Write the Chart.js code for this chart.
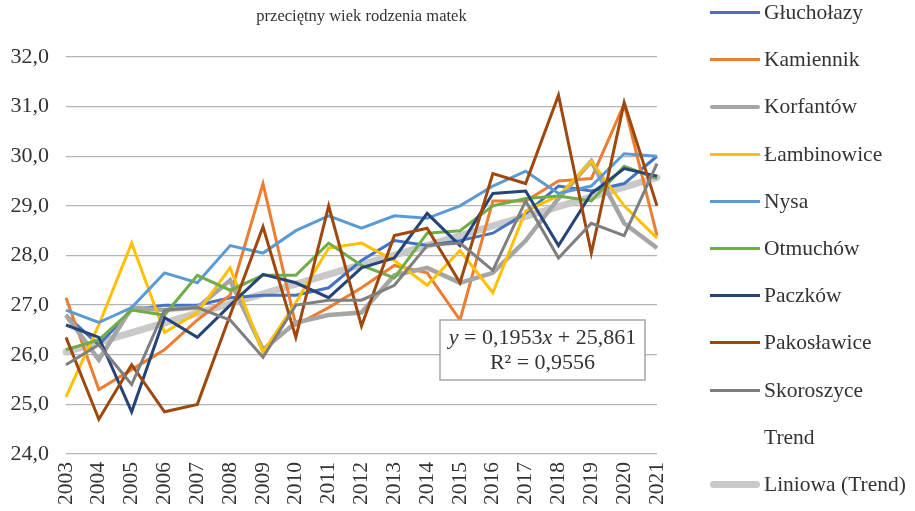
<!DOCTYPE html>
<html lang="pl">
<head>
<meta charset="utf-8">
<script src="https://cdn.jsdelivr.net/npm/chart.js@4.4.1/dist/chart.umd.min.js"></script>
<style>
    html, body { margin: 0; padding: 0; background: #fff; }
    #wrap { position: relative; width: 915px; height: 511px; }
    #legend { position: absolute; left: 710px; top: 0; font-family: "Liberation Serif", serif; font-size: 21.5px; color: #333; }
    .item { position: absolute; left: 0; height: 24px; display: flex; align-items: center; white-space: nowrap; }
    .swatch { width: 50px; margin-right: 4px; }
</style>
</head>
<body>
<div id="wrap">
    <canvas id="ageChart" width="915" height="511"></canvas>
    <div id="legend"></div>
</div>
<script>
const years = ["2003", "2004", "2005", "2006", "2007", "2008", "2009", "2010", "2011", "2012",
    "2013", "2014", "2015", "2016", "2017", "2018", "2019", "2020", "2021"];

const glucholazy = [26.8, 26.2, 26.9, 27.0, 27.0, 27.15, 27.2, 27.2, 27.35, 27.9, 28.3, 28.2, 28.3, 28.45, 28.85, 29.4, 29.3, 29.45, 30.0];
const kamiennik = [27.15, 25.3, 25.7, 26.1, 26.7, 27.2, 29.45, 26.6, 26.95, 27.35, 27.8, 27.65, 26.7, 29.1, 29.1, 29.5, 29.55, 31.05, 28.4];
const korfantow = [26.8, 25.9, 26.95, 26.9, 26.95, 27.5, 26.1, 26.65, 26.8, 26.85, 27.6, 27.75, 27.45, 27.65, 28.3, 29.15, 29.9, 28.65, 28.15];
const lambinowice = [25.15, 26.6, 28.25, 26.45, 26.85, 27.75, 26.05, 27.05, 28.15, 28.25, 27.9, 27.4, 28.1, 27.25, 28.9, 29.2, 29.9, 29.0, 28.35];
const nysa = [26.9, 26.65, 26.95, 27.65, 27.45, 28.2, 28.05, 28.5, 28.8, 28.55, 28.8, 28.75, 29.0, 29.4, 29.7, 29.25, 29.4, 30.05, 30.0];
const otmuchow = [26.1, 26.3, 26.9, 26.8, 27.6, 27.3, 27.6, 27.6, 28.25, 27.8, 27.55, 28.45, 28.5, 29.0, 29.15, 29.2, 29.1, 29.8, 29.55];
const paczkow = [26.6, 26.35, 24.85, 26.75, 26.35, 27.0, 27.62, 27.45, 27.15, 27.75, 27.95, 28.85, 28.2, 29.25, 29.3, 28.2, 29.25, 29.75, 29.6];
const pakoslawice = [26.35, 24.7, 25.8, 24.85, 25.0, 26.8, 28.58, 26.35, 29.0, 26.58, 28.4, 28.55, 27.45, 29.65, 29.45, 31.23, 28.05, 31.08, 29.0];
const skoroszyce = [25.8, 26.2, 25.4, 26.9, 26.95, 26.7, 25.95, 27.0, 27.1, 27.1, 27.4, 28.2, 28.25, 27.7, 29.1, 27.95, 28.65, 28.4, 29.85];

// linia trendu z wykresu: y = 0,1953x + 25,861
const trendSlope = 0.1953;
const trendIntercept = 25.861;
const trendR2 = 0.9556;

const series = [
    { label: "Głuchołazy", data: glucholazy, color: "#4472C4", width: 3 },
    { label: "Kamiennik", data: kamiennik, color: "#ED7D31", width: 3 },
    { label: "Korfantów", data: korfantow, color: "#A5A5A5", width: 4.5 },
    { label: "Łambinowice", data: lambinowice, color: "#FFC000", width: 3 },
    { label: "Nysa", data: nysa, color: "#5B9BD5", width: 3 },
    { label: "Otmuchów", data: otmuchow, color: "#70AD47", width: 3 },
    { label: "Paczków", data: paczkow, color: "#264478", width: 3 },
    { label: "Pakosławice", data: pakoslawice, color: "#9E480E", width: 3 },
    { label: "Skoroszyce", data: skoroszyce, color: "#7F7F7F", width: 3 },
];

// seria "Trend" = średnia gmin, bez linii
const trendAvg = years.map((_, i) => series.reduce((s, d) => s + d.data[i], 0) / series.length);
const trendLine = years.map((_, i) => trendSlope * (i + 1) + trendIntercept);

const fmt = (v, d) => v.toFixed(d).replace(".", ",");

const datasets = series.map((s, index) => ({
    label: s.label,
    data: s.data,
    borderColor: s.color,
    backgroundColor: s.color,
    borderWidth: s.width,
    pointRadius: 0,
    tension: 0,
    fill: false,
    order: 20 - index,
}));

datasets.push({
    label: "Trend",
    data: trendAvg,
    showLine: false,
    pointRadius: 0,
    order: 5,
});

datasets.push({
    label: "Liniowa (Trend)",
    data: trendLine,
    borderColor: "#C9C9C9",
    borderWidth: 7,
    borderCapStyle: "round",
    pointRadius: 0,
    fill: false,
    order: 30,
});

// tytuł i ramka z równaniem
const extras = {
    id: "extras",
    afterDraw: (chart) => {
        const { ctx, chartArea } = chart;
        ctx.save();
        ctx.fillStyle = "#333";
        ctx.textAlign = "center";
        ctx.textBaseline = "middle";
        ctx.font = '16.5px "Liberation Serif"';
        ctx.fillText("przeciętny wiek rodzenia matek", (chartArea.left + chartArea.right) / 2, 17);

        const boxL = chartArea.right - 217;
        const boxR = chartArea.right - 12;
        const boxT = chartArea.top + 263;
        const boxB = chartArea.top + 323;
        ctx.fillStyle = "#fff";
        ctx.fillRect(boxL, boxT, boxR - boxL, boxB - boxT);
        ctx.strokeStyle = "#A6A6A6";
        ctx.lineWidth = 1.5;
        ctx.strokeRect(boxL, boxT, boxR - boxL, boxB - boxT);

        const cx = (boxL + boxR) / 2;
        const parts = [
            ["y", true], [" = " + fmt(trendSlope, 4), false], ["x", true], [" + " + fmt(trendIntercept, 3), false],
        ];
        const fontFor = (it) => (it ? "italic " : "") + '22px "Liberation Serif"';
        let total = 0;
        parts.forEach(([t, it]) => { ctx.font = fontFor(it); total += ctx.measureText(t).width; });
        let x = cx - total / 2;
        ctx.fillStyle = "#333";
        ctx.textAlign = "left";
        parts.forEach(([t, it]) => {
            ctx.font = fontFor(it);
            ctx.fillText(t, x, boxT + 18);
            x += ctx.measureText(t).width;
        });
        ctx.textAlign = "center";
        ctx.font = '22px "Liberation Serif"';
        ctx.fillText("R² = " + fmt(trendR2, 4), cx, boxT + 43);
        ctx.restore();
    },
};

Chart.defaults.font.family = '"Liberation Serif", serif';

new Chart(document.getElementById("ageChart"), {
    type: "line",
    data: { labels: years, datasets },
    plugins: [extras],
    options: {
        responsive: false,
        animation: false,
        layout: { padding: { top: 57, right: 258, left: 0, bottom: 0 } },
        plugins: {
            legend: { display: false },
            title: { display: false },
            tooltip: { enabled: false },
        },
        scales: {
            x: {
                grid: { display: false, drawTicks: false },
                border: { display: false },
                ticks: { minRotation: 90, maxRotation: 90, autoSkip: false, padding: 8, color: "#333", font: { size: 21.5 } },
                afterFit: (scale) => { scale.height = 57; },
            },
            y: {
                min: 24,
                max: 32,
                grid: { color: "#B4B4B4", lineWidth: 1.3, drawTicks: false },
                border: { display: false },
                ticks: { stepSize: 1, padding: 17, color: "#333", font: { size: 22 }, callback: (v) => fmt(v, 1) },
                afterFit: (scale) => { scale.width = 66; },
            },
        },
    },
});

// legenda po prawej
const legend = document.getElementById("legend");
const legendItems = [
    ...series.map((s) => ({ label: s.label, color: s.color, width: s.width })),
    { label: "Trend", color: null, width: 0 },
    { label: "Liniowa (Trend)", color: "#C9C9C9", width: 7 },
];
legendItems.forEach((item, i) => {
    const row = document.createElement("div");
    row.className = "item";
    row.style.top = (12.5 + i * 47.2 - 12) + "px";
    const sw = document.createElement("div");
    sw.className = "swatch";
    if (item.color) {
        sw.style.height = item.width + "px";
        sw.style.background = item.color;
        sw.style.borderRadius = item.width > 3 ? item.width / 2 + "px" : "0";
    }
    const txt = document.createElement("span");
    txt.textContent = item.label;
    row.appendChild(sw);
    row.appendChild(txt);
    legend.appendChild(row);
});
</script>
</body>
</html>
